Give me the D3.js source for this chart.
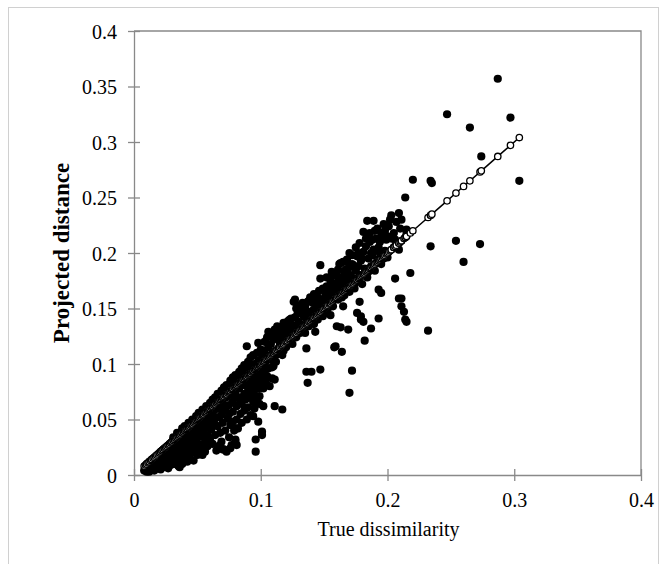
<!DOCTYPE html>
<html><head><meta charset="utf-8">
<script src="https://cdn.jsdelivr.net/npm/d3@7"></script>
<style>body{margin:0;background:#fff}svg{display:block}</style>
</head><body>
<svg id="c" width="667" height="564"></svg>
<script>
// projected distance vs true dissimilarity: [true, projected]
const points = [
[0.008,0.004],[0.009,0.006],[0.010,0.003],[0.010,0.008],[0.011,0.005],[0.012,0.007],[0.012,0.003],[0.013,0.009],[0.014,0.005],[0.014,0.011],
[0.015,0.007],[0.016,0.004],[0.016,0.012],[0.017,0.009],[0.018,0.006],[0.018,0.014],[0.019,0.011],[0.020,0.008],[0.020,0.016],[0.021,0.005],
[0.021,0.013],[0.022,0.010],[0.022,0.018],[0.023,0.007],[0.023,0.015],[0.024,0.012],[0.024,0.020],[0.025,0.009],[0.025,0.017],[0.026,0.014],
[0.026,0.022],[0.027,0.006],[0.027,0.019],[0.028,0.011],[0.028,0.024],[0.029,0.016],[0.029,0.009],[0.030,0.021],[0.030,0.013],[0.030,0.026],
[0.031,0.018],[0.032,0.010],[0.032,0.028],[0.033,0.015],[0.033,0.023],[0.034,0.012],[0.034,0.030],[0.035,0.020],[0.035,0.008],[0.036,0.026],
[0.036,0.013],[0.036,0.007],[0.037,0.032],[0.037,0.018],[0.038,0.024],[0.038,0.010],[0.039,0.035],[0.039,0.029],[0.040,0.016],[0.040,0.021],
[0.041,0.038],[0.041,0.027],[0.042,0.012],[0.042,0.033],[0.042,0.016],[0.043,0.019],[0.043,0.040],[0.044,0.025],[0.044,0.015],[0.045,0.036],
[0.045,0.030],[0.046,0.042],[0.046,0.020],[0.047,0.027],[0.047,0.013],[0.048,0.038],[0.048,0.045],[0.049,0.023],[0.049,0.032],[0.050,0.018],
[0.050,0.047],[0.051,0.040],[0.051,0.028],[0.052,0.022],[0.052,0.050],[0.052,0.026],[0.053,0.035],[0.053,0.044],[0.054,0.025],[0.054,0.018],
[0.055,0.052],[0.055,0.040],[0.056,0.030],[0.056,0.021],[0.057,0.047],[0.057,0.055],[0.058,0.036],[0.058,0.026],[0.059,0.043],[0.059,0.058],
[0.060,0.050],[0.060,0.033],[0.061,0.062],[0.061,0.041],[0.062,0.055],[0.062,0.028],[0.063,0.048],[0.063,0.066],[0.064,0.036],[0.064,0.059],
[0.065,0.022],[0.065,0.052],[0.066,0.068],[0.066,0.044],[0.067,0.026],[0.067,0.060],[0.068,0.071],[0.068,0.038],[0.068,0.027],[0.069,0.054],
[0.069,0.030],[0.070,0.065],[0.070,0.047],[0.070,0.023],[0.071,0.074],[0.071,0.023],[0.072,0.058],[0.072,0.040],[0.073,0.070],[0.073,0.021],
[0.074,0.051],[0.074,0.078],[0.075,0.063],[0.075,0.034],[0.076,0.045],[0.076,0.080],[0.076,0.024],[0.077,0.072],[0.077,0.027],[0.078,0.057],
[0.078,0.066],[0.079,0.083],[0.079,0.040],[0.080,0.075],[0.080,0.032],[0.080,0.030],[0.081,0.062],[0.081,0.050],[0.081,0.042],[0.081,0.027],
[0.082,0.086],[0.082,0.042],[0.083,0.070],[0.083,0.078],[0.084,0.088],[0.084,0.055],[0.085,0.064],[0.085,0.047],[0.086,0.081],[0.086,0.092],
[0.087,0.073],[0.087,0.058],[0.088,0.085],[0.088,0.068],[0.089,0.095],[0.089,0.050],[0.089,0.116],[0.090,0.078],[0.090,0.061],[0.091,0.090],
[0.091,0.070],[0.092,0.098],[0.092,0.054],[0.092,0.075],[0.093,0.083],[0.093,0.074],[0.094,0.093],[0.094,0.066],[0.094,0.053],[0.095,0.100],
[0.095,0.060],[0.096,0.087],[0.096,0.078],[0.096,0.032],[0.096,0.021],[0.097,0.096],[0.097,0.069],[0.098,0.103],[0.098,0.082],[0.098,0.119],
[0.098,0.078],[0.098,0.048],[0.099,0.092],[0.099,0.064],[0.099,0.071],[0.099,0.084],[0.100,0.099],[0.100,0.085],[0.101,0.108],[0.101,0.039],
[0.101,0.036],[0.102,0.095],[0.102,0.062],[0.102,0.078],[0.103,0.112],[0.104,0.102],[0.104,0.083],[0.105,0.089],[0.106,0.115],[0.106,0.129],
[0.107,0.106],[0.107,0.080],[0.108,0.118],[0.109,0.097],[0.109,0.087],[0.110,0.122],[0.110,0.110],[0.110,0.098],[0.111,0.131],[0.111,0.086],
[0.111,0.062],[0.112,0.102],[0.113,0.125],[0.113,0.134],[0.114,0.114],[0.115,0.119],[0.116,0.128],[0.117,0.108],[0.117,0.059],[0.118,0.137],
[0.118,0.122],[0.119,0.131],[0.120,0.135],[0.120,0.115],[0.121,0.126],[0.122,0.139],[0.123,0.140],[0.123,0.120],[0.124,0.130],[0.125,0.135],
[0.126,0.156],[0.126,0.125],[0.127,0.142],[0.127,0.158],[0.128,0.133],[0.129,0.145],[0.130,0.138],[0.131,0.153],[0.131,0.128],[0.132,0.148],
[0.133,0.155],[0.133,0.135],[0.134,0.143],[0.135,0.152],[0.136,0.138],[0.136,0.114],[0.136,0.093],[0.137,0.147],[0.137,0.083],[0.138,0.157],
[0.139,0.142],[0.140,0.159],[0.140,0.093],[0.141,0.155],[0.141,0.148],[0.142,0.145],[0.143,0.150],[0.143,0.129],[0.144,0.143],[0.144,0.155],
[0.145,0.160],[0.146,0.152],[0.147,0.147],[0.147,0.189],[0.147,0.177],[0.147,0.095],[0.148,0.158],[0.149,0.143],[0.150,0.153],[0.151,0.162],
[0.152,0.170],[0.153,0.157],[0.154,0.166],[0.155,0.175],[0.155,0.177],[0.155,0.144],[0.156,0.160],[0.157,0.170],[0.158,0.180],[0.158,0.115],
[0.159,0.164],[0.159,0.116],[0.160,0.173],[0.160,0.134],[0.161,0.185],[0.162,0.168],[0.163,0.178],[0.163,0.191],[0.163,0.133],[0.164,0.160],
[0.164,0.111],[0.165,0.172],[0.165,0.152],[0.166,0.183],[0.167,0.165],[0.168,0.194],[0.168,0.176],[0.168,0.180],[0.169,0.186],[0.169,0.131],
[0.170,0.170],[0.170,0.200],[0.170,0.074],[0.171,0.180],[0.172,0.190],[0.172,0.094],[0.173,0.177],[0.173,0.189],[0.174,0.168],[0.175,0.184],
[0.176,0.197],[0.176,0.174],[0.176,0.146],[0.177,0.188],[0.178,0.209],[0.178,0.180],[0.178,0.156],[0.179,0.193],[0.179,0.143],[0.179,0.140],
[0.180,0.172],[0.181,0.201],[0.181,0.219],[0.181,0.138],[0.182,0.186],[0.182,0.121],[0.183,0.206],[0.184,0.229],[0.184,0.178],[0.185,0.195],
[0.186,0.210],[0.187,0.188],[0.187,0.132],[0.188,0.198],[0.189,0.229],[0.189,0.203],[0.190,0.184],[0.191,0.213],[0.192,0.194],[0.193,0.205],
[0.193,0.167],[0.193,0.141],[0.194,0.210],[0.194,0.200],[0.195,0.190],[0.195,0.164],[0.196,0.216],[0.197,0.226],[0.198,0.202],[0.199,0.212],
[0.200,0.196],[0.202,0.230],[0.203,0.234],[0.203,0.213],[0.205,0.205],[0.206,0.177],[0.207,0.228],[0.209,0.236],[0.209,0.203],[0.209,0.159],
[0.210,0.222],[0.211,0.230],[0.211,0.159],[0.211,0.152],[0.213,0.147],[0.214,0.250],[0.214,0.140],[0.215,0.221],[0.215,0.218],[0.215,0.138],
[0.218,0.182],[0.220,0.266],[0.232,0.130],[0.234,0.206],[0.234,0.265],[0.235,0.263],[0.247,0.325],[0.254,0.211],[0.260,0.192],[0.265,0.313],
[0.273,0.208],[0.274,0.287],[0.287,0.357],[0.297,0.322],[0.304,0.265],
[0.031,0.034],[0.034,0.038],[0.038,0.042],[0.040,0.044],[0.043,0.047],[0.046,0.050],[0.049,0.053],[0.051,0.056],[0.054,0.059],[0.057,0.062],
[0.060,0.065],[0.062,0.068],[0.064,0.070],[0.066,0.073],[0.069,0.076],[0.071,0.079],[0.073,0.081],[0.076,0.085],[0.078,0.088],[0.080,0.090],
[0.083,0.093],[0.085,0.096],[0.087,0.099],[0.090,0.102],[0.092,0.106],[0.094,0.108],[0.097,0.110],[0.100,0.113],[0.103,0.120],[0.105,0.124],
[0.108,0.127],[0.112,0.129],[0.115,0.133],[0.117,0.132],[0.121,0.138],[0.124,0.141],[0.128,0.150],[0.130,0.149],[0.134,0.152],[0.137,0.156],
[0.139,0.160],[0.142,0.163],[0.146,0.166],[0.149,0.168],
[0.040,0.030],[0.045,0.033],[0.050,0.037],[0.055,0.045],[0.058,0.048],[0.061,0.050],[0.064,0.045],[0.067,0.052],[0.070,0.058],[0.073,0.062],
[0.075,0.055],[0.078,0.048],[0.081,0.070],[0.084,0.065],[0.086,0.070],[0.088,0.060],[0.091,0.080],[0.093,0.088],[0.095,0.072],[0.097,0.085],
[0.100,0.090],[0.103,0.092],[0.106,0.096],[0.108,0.104],[0.112,0.108],[0.115,0.110],[0.118,0.112],[0.121,0.118],[0.125,0.118],[0.128,0.124],
[0.132,0.130],[0.135,0.128],[0.138,0.134],[0.142,0.136],[0.145,0.140],[0.150,0.146],[0.153,0.150],[0.157,0.152],[0.161,0.158],[0.166,0.162],
[0.170,0.165],[0.174,0.172],[0.185,0.183],[0.190,0.190],[0.197,0.195],
[0.152,0.178],[0.156,0.183],[0.160,0.180],[0.162,0.190],[0.165,0.192],[0.170,0.188],[0.172,0.198],[0.175,0.205],[0.180,0.195],[0.183,0.213],
[0.186,0.218],[0.188,0.212],[0.190,0.220],[0.192,0.222],[0.195,0.218],[0.198,0.220],[0.200,0.215],[0.201,0.224],[0.205,0.218],[0.206,0.212],
[0.187,0.200],[0.177,0.200],[0.167,0.185]
];
const trueVals = points.map(d => d[0]);          // reference series: true vs true
const xTicks = [0, 0.1, 0.2, 0.3, 0.4];
const yTicks = [0, 0.05, 0.1, 0.15, 0.2, 0.25, 0.3, 0.35, 0.4];
const xTitle = "True dissimilarity";
const yTitle = "Projected distance";

const svg = d3.select("#c");
const L = 134, R = 641, T = 31, B = 475;
const x = d3.scaleLinear().domain([0, 0.4]).range([L, R]);
const y = d3.scaleLinear().domain([0, 0.4]).range([B, T]);
const grey = "#898989";
const font = "'Liberation Serif','Times New Roman',serif";

// outer chart border
svg.append("rect").attr("x", 8.5).attr("y", 7.5).attr("width", 650).attr("height", 620)
  .attr("fill", "none").attr("stroke", "#d0d0d0").attr("stroke-width", 1);

// plot-area top/right border
svg.append("path").attr("d", `M${L},${T}H${R}V${B}`).attr("fill", "none").attr("stroke", grey).attr("stroke-width", 1.3);

const fmt = d => d3.format("")(+d.toFixed(2));

const xAxis = svg.append("g").attr("transform", `translate(0,${B})`)
  .call(d3.axisBottom(x).tickValues(xTicks).tickFormat(fmt).tickSizeInner(6).tickSizeOuter(0).tickPadding(12));
xAxis.selectAll(".tick line").attr("y1", -6);
const yAxis = svg.append("g").attr("transform", `translate(${L},0)`)
  .call(d3.axisLeft(y).tickValues(yTicks).tickFormat(fmt).tickSizeInner(6).tickSizeOuter(0).tickPadding(11));
yAxis.selectAll(".tick line").attr("x1", 6);
[xAxis, yAxis].forEach(g => {
  g.attr("font-family", font);
  g.select(".domain").attr("stroke", grey).attr("stroke-width", 1.3);
  g.selectAll(".tick line").attr("stroke", grey).attr("stroke-width", 1.3);
  g.selectAll("text").attr("font-family", font).attr("font-size", 20).attr("fill", "#000");
});
yAxis.selectAll("text").attr("dy", "0.35em");

// filled points
svg.append("g").selectAll("circle").data(points).join("circle")
  .attr("cx", d => x(d[0])).attr("cy", d => y(d[1])).attr("r", 4.1).attr("fill", "#000");

// reference line with open markers
const ref = trueVals.slice().sort((a, b) => a - b);
svg.append("path").datum(ref)
  .attr("d", d3.line().x(v => x(v)).y(v => y(v)))
  .attr("fill", "none").attr("stroke", "#000").attr("stroke-width", 1.5);
svg.append("g").selectAll("circle").data(ref).join("circle")
  .attr("cx", v => x(v)).attr("cy", v => y(v)).attr("r", 3.2)
  .attr("fill", "#fff").attr("stroke", "#000").attr("stroke-width", 1.3);

svg.append("text").attr("x", (L + R) / 2 + 1).attr("y", 536).attr("text-anchor", "middle")
  .attr("font-family", font).attr("font-size", 20).text(xTitle);
svg.append("text").attr("transform", `translate(69,${(T + B) / 2}) rotate(-90)`).attr("text-anchor", "middle")
  .attr("font-family", font).attr("font-size", 23).attr("font-weight", "bold").text(yTitle);
</script>
</body></html>
